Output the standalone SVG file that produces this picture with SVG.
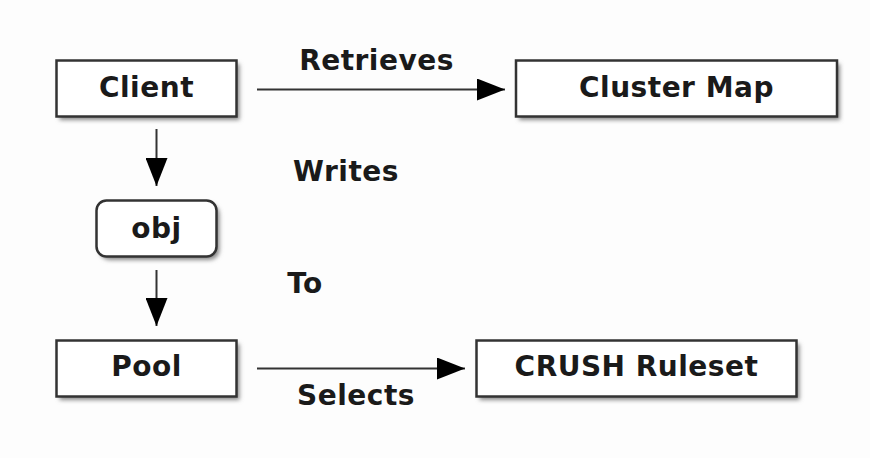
<svg xmlns="http://www.w3.org/2000/svg" width="870" height="458" viewBox="0 0 870 458">
<style>
text{font-family:"DejaVu Sans","Liberation Sans",sans-serif;font-weight:bold;font-size:28px;letter-spacing:0.5px;fill:#1a1a1a;}
.box{fill:#fff;stroke:#333;stroke-width:2.5;}
.sh{fill:#888;filter:url(#blur);}
.edge{stroke:#333;stroke-width:2;fill:none;}
</style>
<defs>
<filter id="blur" x="-10%" y="-30%" width="120%" height="160%"><feGaussianBlur stdDeviation="2"/></filter>
<marker id="arr" viewBox="0 0 28 22" refX="28" refY="11" markerWidth="28" markerHeight="22" markerUnits="userSpaceOnUse" orient="auto"><path d="M0,0 L28,11 L0,22 Z" fill="#000"/></marker>
</defs>
<rect width="870" height="458" fill="#fdfdfd"/>
<g id="connectors">
<line class="edge" x1="257" y1="89.5" x2="505" y2="89.5" marker-end="url(#arr)"/>
<line class="edge" x1="156.5" y1="129" x2="156.5" y2="186" marker-end="url(#arr)"/>
<line class="edge" x1="156.5" y1="270" x2="156.5" y2="326" marker-end="url(#arr)"/>
<line class="edge" x1="257" y1="368.5" x2="465" y2="368.5" marker-end="url(#arr)"/>
<text x="376.5" y="70" text-anchor="middle">Retrieves</text>
<text x="346" y="181" text-anchor="middle">Writes</text>
<text x="305" y="293" text-anchor="middle">To</text>
<text x="356" y="405" text-anchor="middle">Selects</text>
</g>
<g id="client">
<rect class="sh" x="59.5" y="64" width="180" height="56"/>
<rect class="box" x="56.5" y="60.5" width="180" height="56"/>
<text x="146.5" y="97" text-anchor="middle">Client</text>
</g>
<g id="cluster-map">
<rect class="sh" x="519" y="64" width="321" height="56"/>
<rect class="box" x="516" y="60.5" width="321" height="56"/>
<text x="676.5" y="97" text-anchor="middle">Cluster Map</text>
</g>
<g id="obj">
<rect class="sh" x="99.5" y="204" width="120" height="56" rx="10"/>
<rect class="box" x="96.5" y="200.5" width="120" height="56" rx="10"/>
<text x="156.5" y="238" text-anchor="middle">obj</text>
</g>
<g id="pool">
<rect class="sh" x="59.5" y="344" width="180" height="56"/>
<rect class="box" x="56.5" y="340.5" width="180" height="56"/>
<text x="146.5" y="376" text-anchor="middle">Pool</text>
</g>
<g id="crush-ruleset">
<rect class="sh" x="479.5" y="344" width="320" height="56"/>
<rect class="box" x="476.5" y="340.5" width="320" height="56"/>
<text x="636.5" y="376" text-anchor="middle">CRUSH Ruleset</text>
</g>
</svg>
